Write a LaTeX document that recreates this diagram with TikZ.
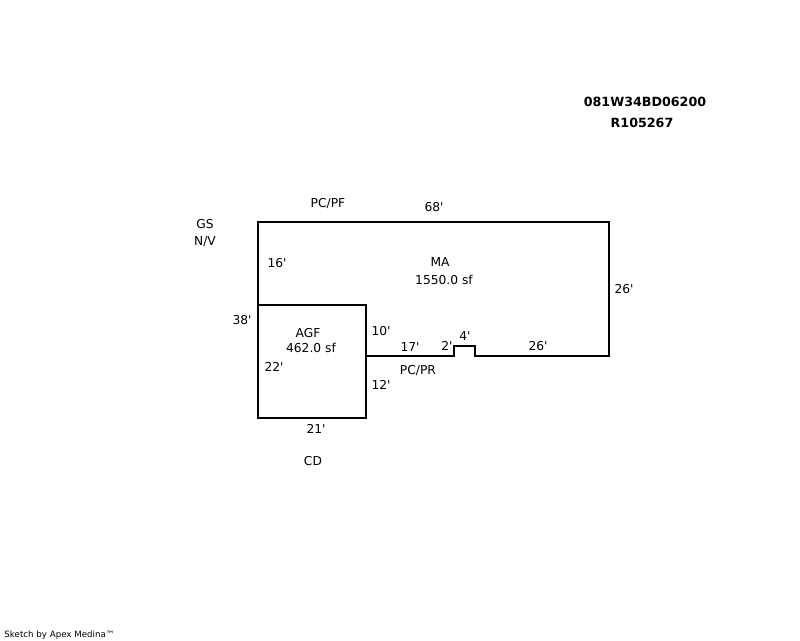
\documentclass[tikz,border=0pt]{standalone}
\usepackage{fontspec}
\newfontfamily\sketchfont{DejaVu Sans}
\tikzset{
	wall/.style={draw=black, line width=1.6pt, line join=miter},
	lbl/.style={inner sep=0pt, text height=9pt*0.75, text depth=0pt, font=\sketchfont\fontsize{9.2}{11}\selectfont},
	idlbl/.style={lbl, font=\sketchfont\fontsize{9.5}{11}\bfseries\selectfont},
	footlbl/.style={lbl, font=\sketchfont\fontsize{6.5}{8}\selectfont}
}
\begin{document}
\begin{tikzpicture}[x=0.75pt, y=-0.75pt]
	\useasboundingbox (0,0) rectangle (800,640);
	\fill[white] (0,0) rectangle (800,640);
	\draw[wall] (258,305) -- (258,222) -- (609,222) -- (609,356) -- (475,356) -- (475,346) -- (454,346) -- (454,356) -- (366,356);
	\draw[wall] (258,305) rectangle (366,418);
	\node[idlbl] (parcel) at (645,102) {081W34BD06200};
	\node[idlbl] (account) at (642,123) {R105267};
	\node[lbl] (gs) at (205,224) {GS};
	\node[lbl] (nv) at (205,241) {N/V};
	\node[lbl] (pcpf) at (328,203) {PC/PF};
	\node[lbl] (top68) at (434,207) {68'};
	\node[lbl] (left16) at (277,263) {16'};
	\node[lbl] (ma) at (440,262) {MA};
	\node[lbl] (maarea) at (444,280) {1550.0 sf};
	\node[lbl] (right26) at (624,289) {26'};
	\node[lbl] (left38) at (242,320) {38'};
	\node[lbl] (agf) at (308,333) {AGF};
	\node[lbl] (agfarea) at (311,348) {462.0 sf};
	\node[lbl] (in10) at (381,331) {10'};
	\node[lbl] (bot17) at (410,347) {17'};
	\node[lbl] (bot2) at (447,346) {2'};
	\node[lbl] (bot4) at (465,336) {4'};
	\node[lbl] (bot26) at (538,346) {26'};
	\node[lbl] (in22) at (274,367) {22'};
	\node[lbl] (pcpr) at (418,370) {PC/PR};
	\node[lbl] (in12) at (381,385) {12'};
	\node[lbl] (bot21) at (316,429) {21'};
	\node[lbl] (cd) at (313,461) {CD};
	\node[footlbl] (credit) at (59.5,633) {Sketch by Apex Medina™};
\end{tikzpicture}
\end{document}
